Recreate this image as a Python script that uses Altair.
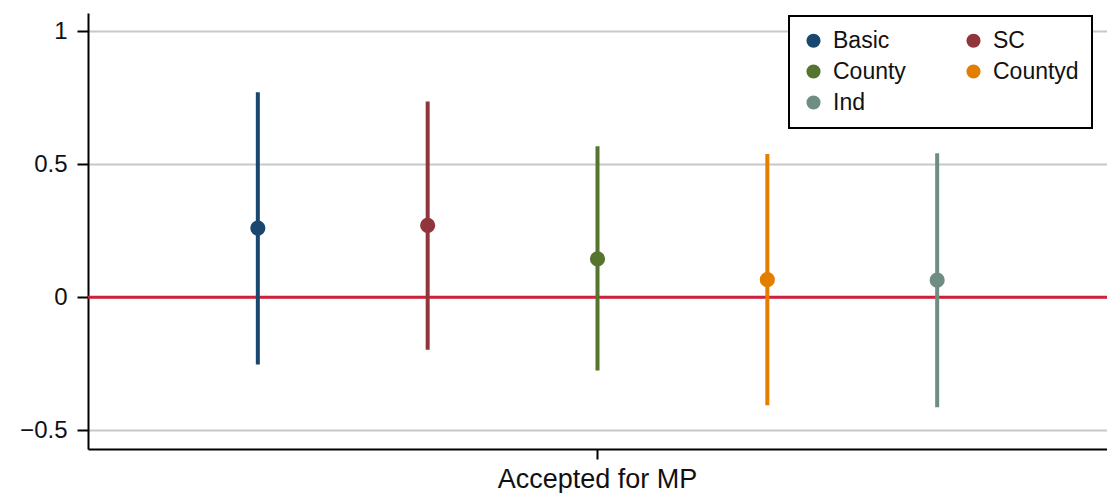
import altair as alt
import pandas as pd

series = ["Basic", "SC", "County", "Countyd", "Ind"]
estimate = [0.260, 0.270, 0.144, 0.066, 0.064]
lower = [-0.253, -0.198, -0.276, -0.406, -0.414]
upper = [0.771, 0.736, 0.568, 0.539, 0.541]
outcome = ["Accepted for MP"] * 5
colors = ["#1a476f", "#90353b", "#55752f", "#e37e00", "#6e8e84"]
y_ticks = [-0.5, 0, 0.5, 1]

df = pd.DataFrame({"outcome": outcome, "series": series, "estimate": estimate,
                   "lower": lower, "upper": upper})

FONT = "Liberation Sans"

x_enc = alt.X("outcome:N", title=None,
              scale=alt.Scale(paddingInner=0, paddingOuter=0),
              axis=alt.Axis(labelAngle=0, grid=False))
xo_enc = alt.XOffset("series:N", sort=series, scale=alt.Scale(type="point", padding=1))
y_scale = alt.Scale(domain=[-0.571, 1.069], nice=False, zero=False)
y_axis = alt.Axis(values=y_ticks, format="~g", grid=True)
color_scale = alt.Scale(domain=series, range=colors)
legend = alt.Legend(title=None, orient="none", legendX=701, legendY=3, columns=2,
                    direction="horizontal", symbolType="circle")
color_enc = alt.Color("series:N", scale=color_scale, sort=series, legend=legend)

base = alt.Chart(df)

zero = alt.Chart(pd.DataFrame({"v": [0]})).mark_rule(color="#cf203b", strokeWidth=3).encode(
    y=alt.Y("v:Q", scale=y_scale, title=None, axis=y_axis)
)

rules = base.mark_rule(strokeWidth=4).encode(
    x=x_enc, xOffset=xo_enc,
    y=alt.Y("lower:Q", scale=y_scale, title=None, axis=y_axis),
    y2="upper:Q",
    color=color_enc,
)

points = base.mark_point(filled=True, size=230, opacity=1, shape="circle").encode(
    x=x_enc, xOffset=xo_enc,
    y=alt.Y("estimate:Q", scale=y_scale, title=None, axis=y_axis),
    color=color_enc,
)

chart = alt.layer(zero, rules, points).properties(
    width=1019, height=436,
    autosize=alt.AutoSizeParams(type="none"),
    padding={"left": 80, "top": 5, "right": 0, "bottom": 44},
).configure_view(stroke=None).configure_axis(
    labelFont=FONT, labelColor="#111111", domainColor="black", domainWidth=2,
    tickColor="black", tickWidth=2, gridColor="#c8c8c8", gridWidth=2, labelLimit=400,
).configure_axisY(
    labelFontSize=24, tickSize=11, labelPadding=10,
).configure_axisX(
    labelFontSize=27, tickSize=10, labelPadding=7,
).configure_legend(
    strokeColor="black", strokeWidth=2, fillColor="white", padding=13,
    columnPadding=56, rowPadding=7, symbolSize=200, symbolStrokeWidth=0,
    symbolOpacity=1, labelFontSize=23, labelFont=FONT, labelColor="#111111",
    labelOffset=8, labelLimit=400,
)

chart.save("out.html", embed_options={"renderer": "svg", "actions": False})
